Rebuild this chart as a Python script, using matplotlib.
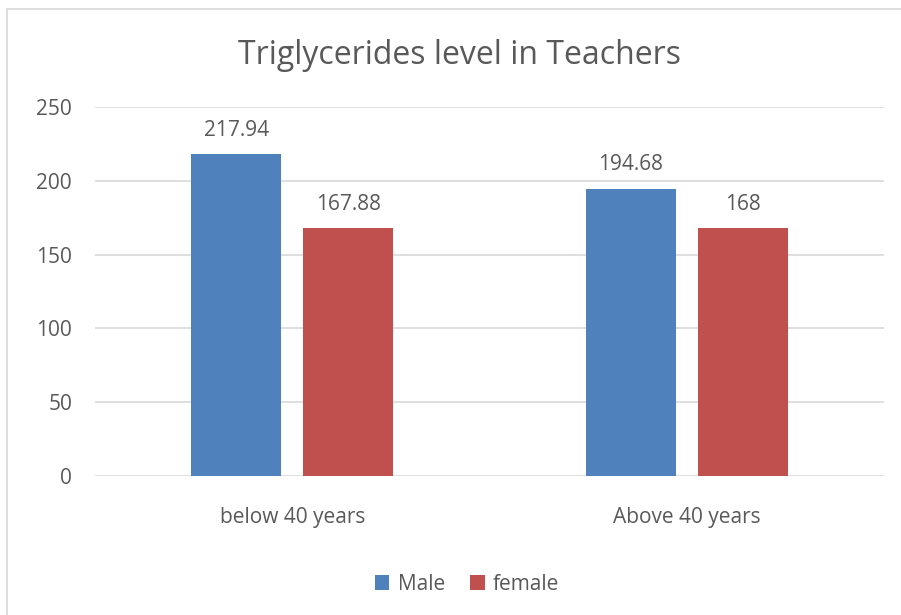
import matplotlib.pyplot as plt
import numpy as np
from matplotlib.patches import Rectangle

categories = ["below 40 years", "Above 40 years"]
male = [217.94, 194.68]
female = [167.88, 168]
male_labels = ["217.94", "194.68"]
female_labels = ["167.88", "168"]

plt.rcParams['font.family'] = ['Open Sans', 'DejaVu Sans']
txt = '#595959'

fig = plt.figure(figsize=(9.01, 6.15), dpi=100)
fig.patches.append(Rectangle((7 / 901, -0.1), 1.2, 1 - 9 / 615 + 0.1,
                             transform=fig.transFigure, fill=False,
                             edgecolor='#d9d9d9', linewidth=1.2))

ax = fig.add_axes([95 / 901, 1 - 476 / 615, (884 - 95) / 901, (476 - 107) / 615])
x = np.arange(len(categories))
w = 0.228
off = 0.142
b1 = ax.bar(x - off, male, w, color='#4f81bd', label='Male', zorder=3)
b2 = ax.bar(x + off, female, w, color='#c0504d', label='female', zorder=3)

for bars, labs in ((b1, male_labels), (b2, female_labels)):
    for rect, lab in zip(bars, labs):
        ax.text(rect.get_x() + rect.get_width() / 2, rect.get_height() + 9, lab,
                ha='center', va='bottom', fontsize=15, color=txt)

ax.set_xlim(-0.5, 1.5)
ax.set_ylim(0, 250)
ax.set_yticks([0, 50, 100, 150, 200, 250])
ax.set_xticks(x)
ax.set_xticklabels(categories)
ax.yaxis.grid(True, color='#d9d9d9', linewidth=1.2, zorder=0)
for s in ax.spines.values():
    s.set_visible(False)
ax.tick_params(length=0, labelsize=15, colors=txt)
ax.tick_params(axis='y', pad=16.5)
ax.tick_params(axis='x', pad=22)

fig.text(460 / 901, 1 - 56 / 615, "Triglycerides level in Teachers", ha='center', va='center',
         fontsize=23, color=txt)

fig.legend(handles=[b1, b2], loc='center', bbox_to_anchor=(467 / 901, 1 - 584 / 615),
           ncol=2, frameon=False, fontsize=15, labelcolor=txt,
           handlelength=0.7, handleheight=0.7, handletextpad=0.4, columnspacing=1.2)

fig.savefig('out.png', dpi=100)
